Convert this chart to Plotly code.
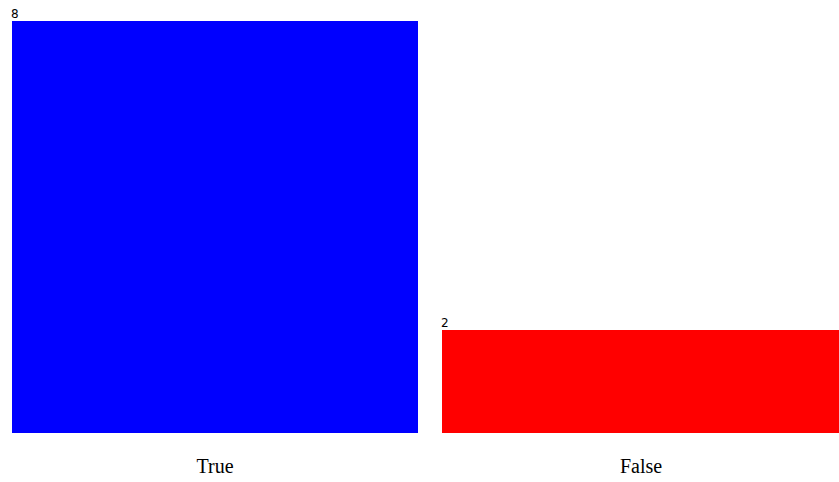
import plotly.graph_objects as go

categories = ["True", "False"]
values = [8, 2]
colors = ["#0000ff", "#ff0000"]
bar_widths = [0.955, 0.934]
value_labels = ["8", "2"]

W, H = 839, 482
px_per_cat = 426.0
x_range = [-215 / px_per_cat, 1 + (839 - 641) / px_per_cat]
plot_bottom = 433
y_top = plot_bottom / 51.56

fig = go.Figure()
fig.add_trace(go.Bar(
    x=categories, y=values, width=bar_widths,
    marker=dict(color=colors, line=dict(width=0)),
    hoverinfo="skip",
))

for c, v, w, t in zip(categories, values, bar_widths, value_labels):
    fig.add_annotation(
        x=c, y=v, text=t, showarrow=False,
        xanchor="left", yanchor="bottom",
        xshift=-w * px_per_cat / 2 - 3, yshift=-2,
        font=dict(family="DejaVu Sans", size=12, color="black"),
    )

fig.update_layout(
    width=W, height=H,
    margin=dict(l=0, r=0, t=0, b=H - plot_bottom, pad=0),
    paper_bgcolor="white", plot_bgcolor="white",
    showlegend=False, bargap=0,
    xaxis=dict(
        type="category", range=x_range, showgrid=False, zeroline=False,
        showline=False, ticks="", ticklabelstandoff=19,
        tickfont=dict(family="Liberation Serif", size=20, color="black"),
    ),
    yaxis=dict(range=[0, y_top], visible=False, fixedrange=True),
)

fig.write_html(
    "out.html",
    config={"displayModeBar": False},
    post_script="document.body.style.margin='0';document.body.style.overflow='hidden';",
)
